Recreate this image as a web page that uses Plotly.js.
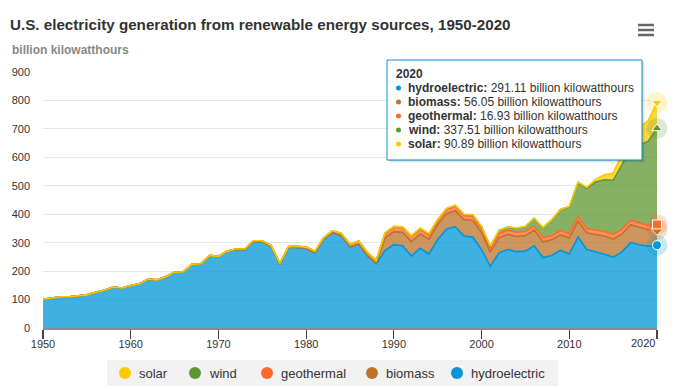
<!DOCTYPE html>
<html>
<head>
<meta charset="utf-8">
<script src="https://cdn.plot.ly/plotly-3.0.1.min.js"></script>
<style>html,body{margin:0;padding:0;background:#fff;}#chart{width:678px;height:389px;}</style>
</head>
<body>
<div id="chart"></div>
<script>
// ---- data (billion kilowatthours) ----
var years = [];
for (var yy = 1950; yy <= 2020; yy++) years.push(yy);

var hydro = [100.9,104.4,109.6,109.6,111.6,116.2,125.5,132.3,143.9,140.6,
149.4,155.5,171.6,168.9,180.0,196.0,197.0,224.0,225.4,254.5,
251.0,269.6,276.1,275.5,304.2,303.2,286.5,223.6,283.0,283.3,
279.2,263.8,312.4,335.3,324.3,284.3,294.0,252.9,226.1,272.1,
292.9,289.0,253.1,280.5,260.1,310.8,347.2,356.5,323.3,319.5,
275.6,217.0,264.3,275.8,268.4,270.3,289.2,247.5,254.8,273.4,
260.2,319.4,276.2,268.6,259.4,249.1,267.8,300.3,292.5,287.9,291.11];

var biomass = [0.39,0.4,0.36,0.33,0.31,0.28,0.25,0.22,0.2,0.17,
0.14,0.16,0.2,0.24,0.26,0.27,0.3,0.28,0.26,0.24,
0.22,0.2,0.18,0.15,0.12,0.1,0.09,0.08,0.07,0.07,
0.08,0.1,0.15,0.3,0.6,0.8,0.9,1.0,1.1,45.0,
45.8,47.3,50.8,50.0,52.0,53.0,54.9,56.2,57.9,58.6,
60.7,49.7,53.7,53.3,53.5,54.3,54.9,55.5,55.0,54.5,
56.1,56.7,57.6,60.9,64.0,63.6,62.8,62.8,61.8,57.5,56.05];

var geothermal = [0,0,0,0,0,0,0,0,0,0,
0.03,0.1,0.1,0.17,0.2,0.19,0.19,0.25,0.38,0.46,
0.53,0.53,1.45,1.97,2.45,3.25,3.62,3.58,3.0,3.89,
5.07,5.69,4.84,6.07,7.74,9.33,10.3,10.78,10.3,14.59,
15.4,15.97,16.1,16.8,15.5,13.4,14.3,14.7,14.8,14.8,
14.1,13.7,14.5,14.4,14.8,14.7,14.6,14.6,14.8,15.0,
15.2,15.3,15.6,15.8,15.9,15.9,15.8,15.9,15.97,15.5,16.93];

var wind = [0,0,0,0,0,0,0,0,0,0,
0,0,0,0,0,0,0,0,0,0,
0,0,0,0,0,0,0,0,0,0,
0,0,0,0.003,0.006,0.006,0.004,0.004,0.001,2.1,
2.8,2.95,2.9,3.0,3.4,3.2,3.2,3.3,3.0,4.5,
5.6,6.7,10.4,11.2,14.1,17.8,26.6,34.5,55.4,73.9,
94.7,120.2,140.8,167.8,181.7,190.7,227.0,254.3,272.7,295.9,337.51];

var solar = [0,0,0,0,0,0,0,0,0,0,
0,0,0,0,0,0,0,0,0,0,
0,0,0,0,0,0,0,0,0,0,
0,0,0,0,0.003,0.01,0.02,0.02,0.01,0.3,
0.37,0.46,0.42,0.46,0.48,0.5,0.52,0.51,0.5,0.5,
0.49,0.54,0.55,0.53,0.58,0.55,0.51,0.61,0.86,0.89,
1.21,1.82,4.33,9.04,17.69,24.89,36.05,53.29,63.83,71.94,90.89];

var seriesNames = ['hydroelectric','biomass','geothermal','wind','solar'];
var seriesData  = [hydro, biomass, geothermal, wind, solar];
var lineColors  = ['#0096d7','#bd732a','#ff6a2a','#5d9732','#ffc800'];
var fillColors  = ['rgba(0,150,215,0.75)','rgba(189,115,42,0.75)','rgba(255,106,42,0.75)','rgba(93,151,50,0.75)','rgba(255,200,0,0.75)'];
var symbols     = ['circle','diamond','square','triangle-up','triangle-down'];
var xTicks = [1950,1960,1970,1980,1990,2000,2010,2020];
var yTicks = [0,100,200,300,400,500,600,700,800,900];
var unitLabel = 'billion kilowatthours';

// pixel -> paper helpers (plot area 43..657 x 72..328)
function px(x) { return (x - 43) / 614; }
function py(y) { return (328 - y) / 256; }

var traces = [];
for (var i = 0; i < seriesData.length; i++) {
  traces.push({
    x: years, y: seriesData[i], type: 'scatter', mode: 'lines',
    stackgroup: 'one', name: seriesNames[i],
    line: {color: lineColors[i], width: 1.6, shape: 'linear'},
    fillcolor: fillColors[i], showlegend: false, hoverinfo: 'skip'
  });
}
// hover state at last point (halo + marker), from cumulative sums
var last = years.length - 1;
var cum = 0;
for (var j = 0; j < seriesData.length; j++) {
  cum += seriesData[j][last];
  traces.push({
    x: [years[last]], y: [cum], type: 'scatter', mode: 'markers',
    marker: {size: 21, color: lineColors[j], opacity: 0.22},
    showlegend: false, hoverinfo: 'skip', cliponaxis: false
  });
  traces.push({
    x: [years[last]], y: [cum], type: 'scatter', mode: 'markers',
    marker: {size: 9, color: lineColors[j], symbol: symbols[j], line: {color: '#ffffff', width: 1}},
    showlegend: false, hoverinfo: 'skip', cliponaxis: false
  });
}

// last x tick label is justified inside the chart edge (drawn as annotation)
var xTickText = xTicks.map(String);
var lastTickLabel = xTickText[xTickText.length - 1];
xTickText[xTickText.length - 1] = '';

var annotations = [
  {text: '<b>billion kilowatthours</b>', xref: 'paper', yref: 'paper',
   x: px(10), y: py(50), xanchor: 'left', yanchor: 'middle',
   showarrow: false, font: {size: 12, color: '#888888'}},
  {text: lastTickLabel, xref: 'paper', yref: 'paper', x: px(657.5), y: py(343),
   xanchor: 'right', yanchor: 'middle', showarrow: false, font: {size: 11, color: '#333333'}}
];
var shapes = [];

// menu icon
[25, 30, 35].forEach(function (yl) {
  shapes.push({type: 'line', xref: 'paper', yref: 'paper', x0: px(638), x1: px(654), y0: py(yl), y1: py(yl),
               line: {color: '#666666', width: 2.5}});
});

// tooltip box (shadow + box)
[[3, 0.04], [2, 0.07], [1, 0.1]].forEach(function (s) {
  shapes.push({type: 'rect', xref: 'paper', yref: 'paper', x0: px(387 + s[0]), x1: px(642 + s[0]),
               y0: py(60 + s[0]), y1: py(160 + s[0]), line: {width: 0}, fillcolor: 'rgba(0,0,0,' + s[1] + ')'});
});
shapes.push({type: 'rect', xref: 'paper', yref: 'paper', x0: px(387), x1: px(642), y0: py(60), y1: py(160),
             line: {color: '#0096d7', width: 1}, fillcolor: '#ffffff'});
annotations.push({text: '<b>' + years[last] + '</b>', xref: 'paper', yref: 'paper', x: px(394), y: py(74),
                  xanchor: 'left', yanchor: 'middle', showarrow: false, font: {size: 12, color: '#333333'}});
for (var t = 0; t < seriesData.length; t++) {
  var rowY = 88 + 14 * t;
  shapes.push({type: 'circle', xref: 'paper', yref: 'paper', xsizemode: 'pixel', ysizemode: 'pixel',
               xanchor: px(398.5), yanchor: py(rowY), x0: -2.5, x1: 2.5, y0: -2.5, y1: 2.5,
               line: {width: 0}, fillcolor: lineColors[t]});
  annotations.push({text: '<b>' + seriesNames[t] + ':</b> ' + seriesData[t][last].toFixed(2) + ' ' + unitLabel,
                    xref: 'paper', yref: 'paper', x: px(406), y: py(rowY), xanchor: 'left', yanchor: 'middle',
                    showarrow: false, font: {size: 12, color: '#333333'}});
}

// legend (reversed series order, circle symbols)
shapes.push({type: 'rect', xref: 'paper', yref: 'paper', x0: px(108), x1: px(557), y0: py(361), y1: py(385),
             line: {color: '#e8e8e8', width: 1}, fillcolor: '#f2f2f2', layer: 'below'});
var legendSymbolX = [125, 195, 267, 372, 457];
for (var k = 0; k < seriesData.length; k++) {
  var si = seriesData.length - 1 - k;
  shapes.push({type: 'circle', xref: 'paper', yref: 'paper', xsizemode: 'pixel', ysizemode: 'pixel',
               xanchor: px(legendSymbolX[k]), yanchor: py(373), x0: -6, x1: 6, y0: -6, y1: 6,
               line: {width: 0}, fillcolor: lineColors[si]});
  annotations.push({text: seriesNames[si], xref: 'paper', yref: 'paper', x: px(legendSymbolX[k] + 12),
                    y: py(373), xanchor: 'left', yanchor: 'middle', showarrow: false,
                    font: {size: 13, color: '#333333'}});
}

var layout = {
  width: 678, height: 389,
  margin: {l: 43, r: 21, t: 72, b: 61},
  paper_bgcolor: '#ffffff', plot_bgcolor: '#ffffff',
  font: {family: '"Liberation Sans", Arial, sans-serif', size: 11, color: '#333333'},
  title: {
    text: '<b>U.S. electricity generation from renewable energy sources, 1950-2020</b>',
    font: {size: 15.2, color: '#333333'},
    xref: 'container', yref: 'container', x: 10/678, xanchor: 'left',
    y: 1 - 25/389, yanchor: 'middle'
  },
  xaxis: {
    range: [1950, 2020], tickvals: xTicks, ticktext: xTickText,
    showgrid: false, zeroline: false, showline: true, linecolor: '#8a8a8a', linewidth: 2,
    ticks: 'outside', ticklen: 9, tickcolor: '#444444', tickwidth: 1.2,
    ticklabelstandoff: -4,
    tickfont: {size: 11, color: '#333333'}, fixedrange: true
  },
  yaxis: {
    range: [0, 900], tickvals: yTicks, ticktext: yTicks.map(String),
    showgrid: true, gridcolor: '#e6e6e6', gridwidth: 1, zeroline: false, showline: false,
    ticks: '', ticklabelstandoff: 12, tickfont: {size: 11, color: '#333333'}, fixedrange: true
  },
  showlegend: false,
  annotations: annotations,
  shapes: shapes
};

Plotly.newPlot('chart', traces, layout, {displayModeBar: false, staticPlot: true});
</script>
</body>
</html>
